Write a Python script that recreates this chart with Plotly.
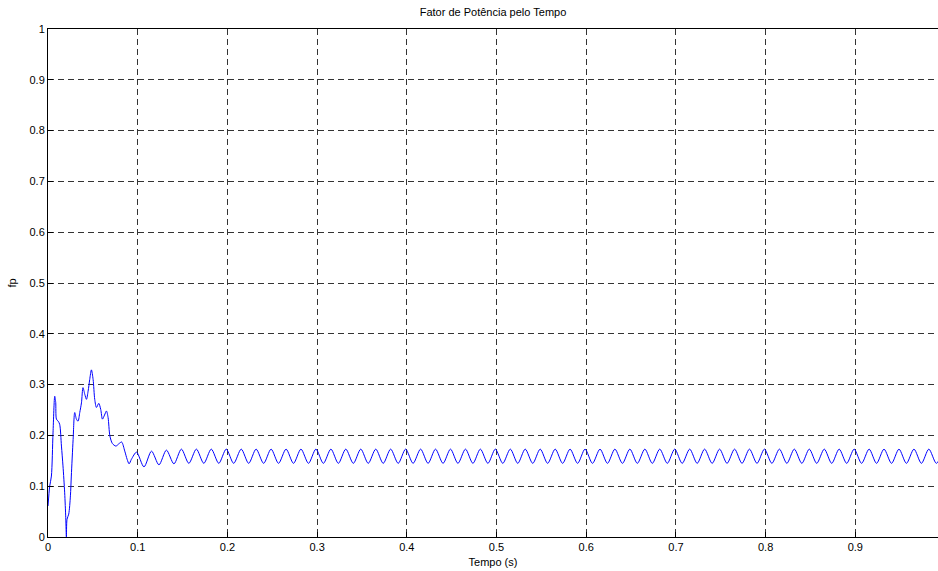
import plotly.graph_objects as go

# Power factor over time: start-up transient, then the 60 Hz ripple
# (alternating peaks and troughs, one every half cycle).
transient_t = [
    0.0000, 0.0019, 0.0038, 0.0056, 0.0075, 0.0086, 0.0094, 0.0113, 0.0130,
    0.0150, 0.0167, 0.0186, 0.0198, 0.0205, 0.0212, 0.0231, 0.0250, 0.0260,
    0.0280, 0.0298, 0.0317, 0.0335, 0.0354, 0.0373, 0.0390, 0.0410, 0.0429,
    0.0447, 0.0465, 0.0484, 0.0503, 0.0521, 0.0540, 0.0566, 0.0588, 0.0607,
    0.0630, 0.0652, 0.0670, 0.0690, 0.0718, 0.0757, 0.0793, 0.0821, 0.0856,
    0.0882, 0.0904, 0.0930,
]
transient_fp = [
    0.061, 0.100, 0.120, 0.205, 0.277, 0.265, 0.232, 0.228, 0.222,
    0.179, 0.140, 0.087, 0.038, 0.000, 0.035, 0.045, 0.081, 0.120,
    0.192, 0.245, 0.232, 0.228, 0.245, 0.264, 0.294, 0.281, 0.271,
    0.287, 0.310, 0.329, 0.310, 0.271, 0.255, 0.263, 0.251, 0.232,
    0.240, 0.248, 0.235, 0.199, 0.184, 0.179, 0.184, 0.187, 0.169,
    0.153, 0.144, 0.153,
]

ripple_t = [
    0.0987, 0.1070, 0.1154, 0.1237, 0.1320, 0.1404,
    0.1487, 0.1570, 0.1654, 0.1737, 0.1820, 0.1904,
    0.1987, 0.2070, 0.2154, 0.2237, 0.2320, 0.2404,
    0.2487, 0.2570, 0.2654, 0.2737, 0.2820, 0.2904,
    0.2987, 0.3070, 0.3154, 0.3237, 0.3320, 0.3404,
    0.3487, 0.3570, 0.3654, 0.3737, 0.3820, 0.3904,
    0.3987, 0.4070, 0.4154, 0.4237, 0.4320, 0.4404,
    0.4487, 0.4570, 0.4654, 0.4737, 0.4820, 0.4904,
    0.4987, 0.5070, 0.5154, 0.5237, 0.5320, 0.5404,
    0.5487, 0.5570, 0.5654, 0.5737, 0.5820, 0.5904,
    0.5987, 0.6070, 0.6154, 0.6237, 0.6320, 0.6404,
    0.6487, 0.6570, 0.6654, 0.6737, 0.6820, 0.6904,
    0.6987, 0.7070, 0.7154, 0.7237, 0.7320, 0.7404,
    0.7487, 0.7570, 0.7654, 0.7737, 0.7820, 0.7904,
    0.7987, 0.8070, 0.8154, 0.8237, 0.8320, 0.8404,
    0.8487, 0.8570, 0.8654, 0.8737, 0.8820, 0.8904,
    0.8987, 0.9070, 0.9154, 0.9237, 0.9320, 0.9404,
    0.9487, 0.9570, 0.9654, 0.9737, 0.9820, 0.9904,
    0.9987,
]
ripple_fp = [
    0.167, 0.138, 0.169, 0.142, 0.171, 0.144,
    0.173, 0.145, 0.173, 0.145, 0.173, 0.145,
    0.173, 0.145, 0.173, 0.145, 0.173, 0.145,
    0.173, 0.145, 0.173, 0.145, 0.173, 0.145,
    0.173, 0.145, 0.173, 0.145, 0.173, 0.145,
    0.173, 0.145, 0.173, 0.145, 0.173, 0.145,
    0.173, 0.145, 0.173, 0.145, 0.173, 0.145,
    0.173, 0.145, 0.173, 0.145, 0.173, 0.145,
    0.173, 0.145, 0.173, 0.145, 0.173, 0.145,
    0.173, 0.145, 0.173, 0.145, 0.173, 0.145,
    0.173, 0.145, 0.173, 0.145, 0.173, 0.145,
    0.173, 0.145, 0.173, 0.145, 0.173, 0.145,
    0.173, 0.145, 0.173, 0.145, 0.173, 0.145,
    0.173, 0.145, 0.173, 0.145, 0.173, 0.145,
    0.173, 0.145, 0.173, 0.145, 0.173, 0.145,
    0.173, 0.145, 0.173, 0.145, 0.173, 0.145,
    0.173, 0.145, 0.173, 0.145, 0.173, 0.145,
    0.173, 0.145, 0.173, 0.145, 0.173, 0.145,
    0.173,
]

x_ticks = [0, 0.1, 0.2, 0.3, 0.4, 0.5, 0.6, 0.7, 0.8, 0.9]
x_tick_labels = ["0", "0.1", "0.2", "0.3", "0.4", "0.5", "0.6", "0.7", "0.8", "0.9"]
y_ticks = [0, 0.1, 0.2, 0.3, 0.4, 0.5, 0.6, 0.7, 0.8, 0.9, 1]
y_tick_labels = ["0", "0.1", "0.2", "0.3", "0.4", "0.5", "0.6", "0.7", "0.8", "0.9", "1"]

t = transient_t + ripple_t
fp = transient_fp + ripple_fp

FONT = "Liberation Sans, Arial, Helvetica, sans-serif"

fig = go.Figure(
    go.Scatter(
        x=t, y=fp, mode="lines",
        line=dict(color="#0000ff", width=1, shape="spline", smoothing=0.8),
        hoverinfo="x+y",
    )
)

axis_common = dict(
    showline=True, linecolor="black", linewidth=1,
    ticks="inside", ticklen=5, tickcolor="black", tickwidth=1,
    showgrid=True, gridcolor="rgba(0,0,0,0.8)", gridwidth=1, griddash="6px,4px",
    zeroline=False,
    tickfont=dict(family=FONT, size=11, color="black"),
)

fig.update_layout(
    width=938, height=571,
    margin=dict(l=48, r=0, t=29, b=34),
    paper_bgcolor="white", plot_bgcolor="white",
    showlegend=False,
    font=dict(family=FONT, size=11, color="black"),
    title=dict(
        text="Fator de Potência pelo Tempo",
        x=0.5, xref="paper", xanchor="center",
        y=1, yref="container", yanchor="top", pad=dict(t=8),
        font=dict(family=FONT, size=11, color="black"),
    ),
    xaxis=dict(
        range=[0, 0.9922], tickvals=x_ticks, ticktext=x_tick_labels,
        mirror=True,
        title=dict(text="Tempo (s)", font=dict(family=FONT, size=11), standoff=6),
        **axis_common,
    ),
    yaxis=dict(
        range=[0, 1], tickvals=y_ticks, ticktext=y_tick_labels,
        title=dict(text="fp", font=dict(family=FONT, size=11), standoff=10),
        **axis_common,
    ),
)

fig.write_html("out.html")
